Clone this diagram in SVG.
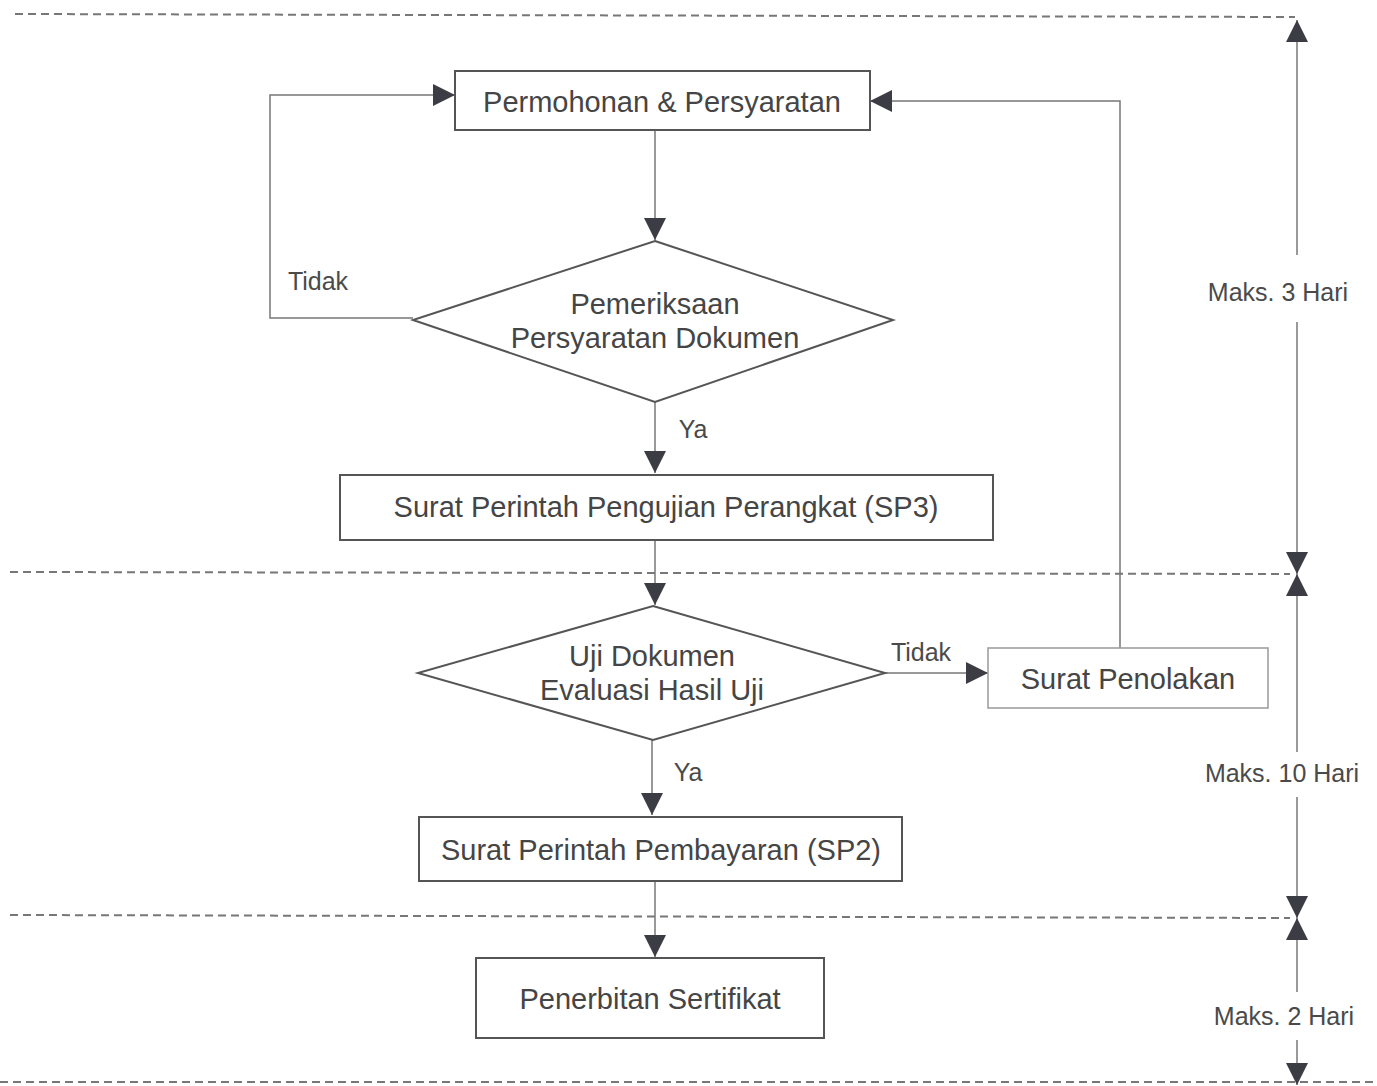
<svg xmlns="http://www.w3.org/2000/svg" width="1377" height="1086" viewBox="0 0 1377 1086">
<style>
.bg{fill:#ffffff}
.box{fill:#ffffff;stroke:#555;stroke-width:2}
.lt{fill:#ffffff;stroke:#999;stroke-width:1.5}
.t{font-family:"Liberation Sans",Arial,sans-serif;font-size:29px;fill:#454545;text-anchor:middle}
.l{font-family:"Liberation Sans",Arial,sans-serif;font-size:25px;fill:#4a4a4a;text-anchor:middle}
.c{fill:none;stroke:#777;stroke-width:1.5}
.tl{fill:none;stroke:#777;stroke-width:1.5}
.d{fill:none;stroke:#777;stroke-width:2;stroke-dasharray:8 5}
</style>
<defs>
<marker id="ah" viewBox="0 0 22 22" refX="22" refY="11" markerWidth="22" markerHeight="22" orient="auto" markerUnits="userSpaceOnUse">
<path d="M0,0 L22,11 L0,22 z" fill="#3c3c44"/>
</marker>
</defs>
<rect class="bg" x="0" y="0" width="1377" height="1086"/>
<g id="bands">
<path class="d" d="M15,14 L1295,17"/>
<path class="d" d="M10,572 L1290,574"/>
<path class="d" d="M10,915 L1290,918"/>
<path class="d" d="M0,1082 L1377,1082"/>
</g>
<g id="timeline">
<path class="tl" d="M1297,255 L1297,20" marker-end="url(#ah)"/>
<path class="tl" d="M1297,322 L1297,574" marker-end="url(#ah)"/>
<path class="tl" d="M1297,752 L1297,574" marker-end="url(#ah)"/>
<path class="tl" d="M1297,797 L1297,918" marker-end="url(#ah)"/>
<path class="tl" d="M1297,992 L1297,918" marker-end="url(#ah)"/>
<path class="tl" d="M1297,1040 L1297,1085" marker-end="url(#ah)"/>
<text class="l" x="1278" y="301">Maks. 3 Hari</text>
<text class="l" x="1282" y="782">Maks. 10 Hari</text>
<text class="l" x="1284" y="1025">Maks. 2 Hari</text>
</g>
<g id="connectors">
<path class="c" d="M655,131 L655,240" marker-end="url(#ah)"/>
<path class="c" d="M413,318 L270,318 L270,95 L455,95" marker-end="url(#ah)"/>
<path class="c" d="M655,402 L655,473" marker-end="url(#ah)"/>
<path class="c" d="M655,540 L655,605" marker-end="url(#ah)"/>
<path class="c" d="M885,673 L988,673" marker-end="url(#ah)"/>
<path class="c" d="M1120,648 L1120,101 L870,101" marker-end="url(#ah)"/>
<path class="c" d="M652,740 L652,815" marker-end="url(#ah)"/>
<path class="c" d="M655,881 L655,957" marker-end="url(#ah)"/>
<text class="l" x="318" y="290">Tidak</text>
<text class="l" x="693" y="438">Ya</text>
<text class="l" x="921" y="661">Tidak</text>
<text class="l" x="688" y="781">Ya</text>
</g>
<g id="n1">
<rect class="box" x="455" y="71" width="415" height="59"/>
<text class="t" x="662" y="112">Permohonan &amp; Persyaratan</text>
</g>
<g id="n2">
<polygon class="box" points="655,241 893,320 655,402 413,320"/>
<text class="t" x="655" y="314">Pemeriksaan</text>
<text class="t" x="655" y="348">Persyaratan Dokumen</text>
</g>
<g id="n3">
<rect class="box" x="340" y="475" width="653" height="65"/>
<text class="t" x="666" y="517">Surat Perintah Pengujian Perangkat (SP3)</text>
</g>
<g id="n4">
<polygon class="box" points="653,606 885,673 653,740 418,673"/>
<text class="t" x="652" y="666">Uji Dokumen</text>
<text class="t" x="652" y="700">Evaluasi Hasil Uji</text>
</g>
<g id="n5">
<rect class="lt" x="988" y="648" width="280" height="60"/>
<text class="t" x="1128" y="689">Surat Penolakan</text>
</g>
<g id="n6">
<rect class="box" x="419" y="817" width="483" height="64"/>
<text class="t" x="661" y="860">Surat Perintah Pembayaran (SP2)</text>
</g>
<g id="n7">
<rect class="box" x="476" y="958" width="348" height="80"/>
<text class="t" x="650" y="1009">Penerbitan Sertifikat</text>
</g>
</svg>
